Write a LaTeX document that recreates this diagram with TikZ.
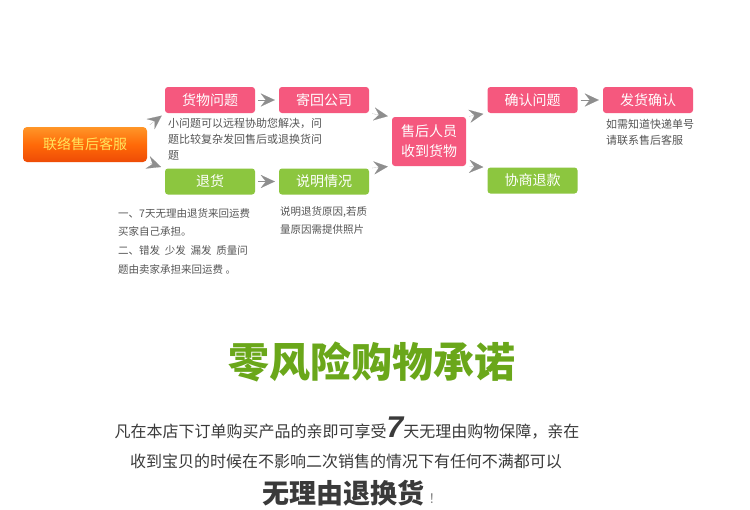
\documentclass[tikz,border=0pt]{standalone}
\usepackage{fontspec}
\setmainfont{Noto Sans CJK SC}
\newfontfamily\latinfont{Liberation Sans}
\usetikzlibrary{arrows.meta}
\definecolor{boxpink}{HTML}{F5587E}
\definecolor{boxgreen}{HTML}{8CC63F}
\definecolor{tipgray}{HTML}{8E8E8E}
\definecolor{titlegreen}{HTML}{6AA71A}
\definecolor{notegray}{HTML}{555555}
\definecolor{textgray}{HTML}{3A3A3A}
\definecolor{kefuyellow}{HTML}{FFE55C}

\begin{document}
\begin{tikzpicture}[x=1pt,y=-1pt,
  pinkbox/.style={fill=boxpink, rounded corners=3pt, minimum width=90pt, minimum height=26pt, inner sep=0pt, text=white, font=\fontsize{14}{16}\selectfont},
  greenbox/.style={pinkbox, fill=boxgreen},
  note/.style={anchor=north west, align=left, text=notegray, inner sep=0pt},
  gaparrow/.style={draw=tipgray, line width=0.1pt, -{Stealth[length=14pt,width=13pt,inset=5pt]}, shorten <=3pt, shorten >=4pt}]
\useasboundingbox[fill=white] (0,0) rectangle (750,509);

% flow chart
\node[rounded corners=4pt, top color={rgb,255:red,255;green,150;blue,40}, bottom color={rgb,255:red,238;green,75;blue,6}, middle color={rgb,255:red,255;green,106;blue,8}, minimum width=124pt, minimum height=35pt, inner sep=0pt, text=kefuyellow, font=\fontsize{14}{16}\selectfont] (kefu) at (85,144.5) {联络售后客服};
\node[pinkbox] (huowu) at (210,100) {货物问题};
\node[pinkbox] (jihui) at (324,100) {寄回公司};
\node[greenbox] (tuihuo) at (210,181.5) {退货};
\node[greenbox] (shuoming) at (324,181.5) {说明情况};
\node[pinkbox, minimum width=74pt, minimum height=49pt, align=center, font=\fontsize{14}{20}\selectfont] (shouhou) at (429,141.5) {售后人员\\收到货物};
\node[pinkbox] (queren) at (532.5,100) {确认问题};
\node[pinkbox] (fahuo) at (648,100) {发货确认};
\node[greenbox] (xieshang) at (532.5,180.5) {协商退款};

\draw[gaparrow] (kefu.north east) -- (huowu.south west);
\draw[gaparrow] (kefu.south east) -- (tuihuo.north west);
\draw[gaparrow] (huowu) -- (jihui);
\draw[gaparrow] (tuihuo) -- (shuoming);
\draw[gaparrow] (jihui.south east) -- (shouhou.north west);
\draw[gaparrow] (shuoming.north east) -- (shouhou.south west);
\draw[gaparrow] (shouhou.north east) -- (queren.south west);
\draw[gaparrow] (shouhou.south east) -- (xieshang.north west);
\draw[gaparrow] (queren) -- (fahuo);

% notes
\node[note, font=\fontsize{11}{16}\selectfont] (huowunote) at (168,118) {小问题可以远程协助您解决，问\\题比较复杂发回售后或退换货问\\题};
\node[note, font=\fontsize{11}{16}\selectfont] (fahuonote) at (606,119) {如需知道快递单号\\请联系售后客服};
\node[note, font=\fontsize{10.5}{18.7}\selectfont] (tuihuonote) at (118,208) {一、7天无理由退货来回运费\\买家自己承担。\\二、错发\ \ 少发\ \ 漏发\ \ 质量问\\题由卖家承担来回运费 。};
\node[note, font=\fontsize{10.5}{18}\selectfont] (shuomingnote) at (280,206) {说明退货原因,若质\\量原因需提供照片};

% promise
\node[anchor=base, inner sep=0pt, text=titlegreen, font=\bfseries\fontsize{41}{41}\selectfont] (title) at (372,377) {零风险购物承诺};
\node[anchor=base, inner sep=0pt, text=textgray, font=\fontsize{16}{16}\selectfont] (line1) at (347,437) {凡在本店下订单购买产品的亲即可享受{\latinfont\bfseries\itshape\fontsize{30}{30}\selectfont 7}天无理由购物保障，亲在};
\node[anchor=base, inner sep=0pt, text=textgray, font=\fontsize{16}{16}\selectfont] (line2) at (346,467) {收到宝贝的时候在不影响二次销售的情况下有任何不满都可以};
\node[anchor=base, inner sep=0pt, text=textgray, font=\fontsize{16}{16}\selectfont] (line3) at (352,503) {{\bfseries\fontsize{27}{27}\selectfont 无理由退换货}\hspace{4pt}{\color{gray}\fontsize{13}{13}\selectfont ！}};
\end{tikzpicture}
\end{document}
